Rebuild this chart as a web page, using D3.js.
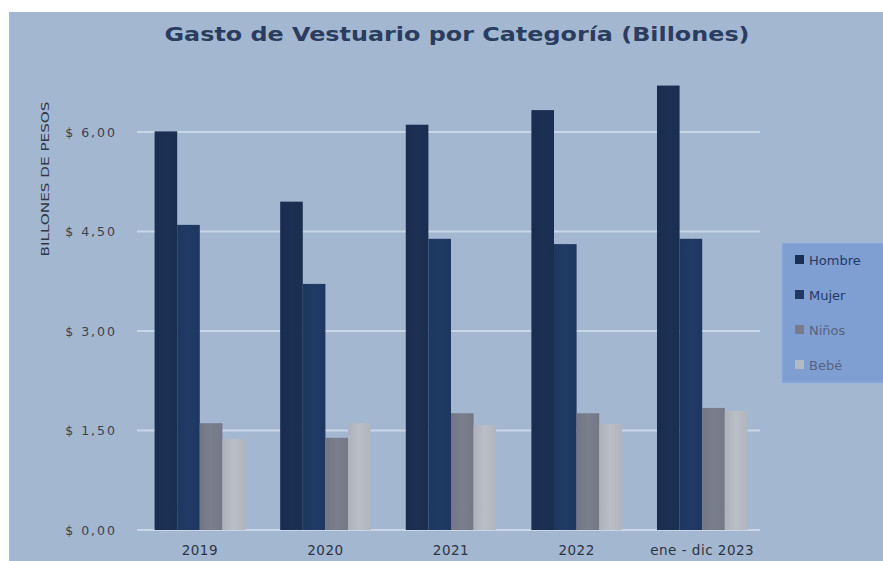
<!DOCTYPE html>
<html>
<head>
<meta charset="utf-8">
<script src="https://cdn.jsdelivr.net/npm/d3@7"></script>
<style>
  html, body { margin: 0; padding: 0; background: #ffffff; }
  svg { display: block; }
</style>
</head>
<body>
<svg id="chart" width="883" height="561"></svg>
<script>
const categories = ["2019", "2020", "2021", "2022", "ene - dic 2023"];
const seriesNames = ["Hombre", "Mujer", "Niños", "Bebé"];
const hombre = [6.01, 4.95, 6.11, 6.33, 6.70];
const mujer  = [4.60, 3.71, 4.39, 4.31, 4.39];
const ninos  = [1.61, 1.39, 1.76, 1.76, 1.84];
const bebe   = [1.37, 1.61, 1.58, 1.60, 1.80];
const yTicks = [0, 1.5, 3, 4.5, 6];
const seriesColors = ["#1b2f52", "#1f3963", "#777b8a", "#b5b9c1"];

const series = [hombre, mujer, ninos, bebe];

const svg = d3.select("#chart");
const W = 883, H = 561;

// background panel
svg.append("rect").attr("x", 9).attr("y", 12).attr("width", W - 9).attr("height", H - 12)
  .attr("fill", "#a3b7d1");

const plot = { left: 137, right: 765, top: 60, bottom: 530 };

const x0 = d3.scaleBand().domain(categories).range([plot.left, plot.right]).paddingInner(0.28).paddingOuter(0.14);
const x1 = d3.scaleBand().domain(seriesNames).range([0, x0.bandwidth()]).padding(0);
const y = d3.scaleLinear().domain([0, 6]).range([plot.bottom, 132]);

// gridlines
svg.append("g").selectAll("line").data(yTicks).join("line")
  .attr("x1", plot.left).attr("x2", 760)
  .attr("y1", d => y(d)).attr("y2", d => y(d))
  .attr("stroke", "#c9d6e8").attr("stroke-width", 2);

// gradients for bars
const defs = svg.append("defs");
seriesColors.forEach((c, i) => {
  const g = defs.append("linearGradient").attr("id", "g" + i).attr("x1", "0").attr("x2", "1").attr("y1", "0").attr("y2", "0");
  g.append("stop").attr("offset", "0%").attr("stop-color", d3.color(c).darker(0.12));
  g.append("stop").attr("offset", "50%").attr("stop-color", d3.color(c).brighter(0.08));
  g.append("stop").attr("offset", "100%").attr("stop-color", d3.color(c).darker(0.08));
});

// bars
const groups = svg.append("g").selectAll("g").data(categories).join("g")
  .attr("transform", d => `translate(${x0(d)},0)`);
groups.selectAll("rect").data((d, ci) => seriesNames.map((s, si) => ({ s, si, v: series[si][ci] })))
  .join("rect")
  .attr("x", d => x1(d.s))
  .attr("width", x1.bandwidth())
  .attr("y", d => y(d.v))
  .attr("height", d => y(0) - y(d.v))
  .attr("fill", d => `url(#g${d.si})`);

// y axis labels
const yAxis = d3.axisLeft(y).tickValues(yTicks).tickSize(0).tickPadding(0)
  .tickFormat(d => "$ " + d3.format(".2f")(d).replace(".", ","));
const yg = svg.append("g").attr("transform", `translate(117,0)`).call(yAxis);
yg.select(".domain").remove();
yg.selectAll("text").attr("fill", "#3a4250").attr("font-family", "'DejaVu Sans', sans-serif")
  .attr("font-size", 12.5).attr("letter-spacing", 2);

// x axis
const xAxis = d3.axisBottom(x0).tickSize(0).tickPadding(0);
const xg = svg.append("g").attr("transform", `translate(0,${plot.bottom})`).call(xAxis);
xg.select(".domain").remove();
xg.selectAll("text").attr("fill", "#2c3444").attr("font-family", "'DejaVu Sans', sans-serif")
  .attr("font-size", 13.5).attr("letter-spacing", 0.5).attr("dy", "1.85em");

// y axis title
svg.append("text")
  .attr("transform", "translate(49,179) rotate(-90)")
  .attr("text-anchor", "middle")
  .attr("font-family", "'DejaVu Sans Condensed', 'Liberation Sans Narrow', Arial, sans-serif")
  .attr("font-size", 11).attr("fill", "#2f3747")
  .attr("textLength", 155).attr("lengthAdjust", "spacingAndGlyphs")
  .text("BILLONES DE PESOS");

// title
svg.append("text")
  .attr("x", 457).attr("y", 41)
  .attr("text-anchor", "middle")
  .attr("font-family", "'DejaVu Sans', sans-serif").attr("font-weight", "bold")
  .attr("font-size", 20).attr("fill", "#2b3d5e")
  .attr("textLength", 585).attr("lengthAdjust", "spacingAndGlyphs")
  .text("Gasto de Vestuario por Categoría (Billones)");

// legend
const lg = svg.append("g").attr("transform", "translate(782,243)");
lg.append("rect").attr("x", 0).attr("y", 0).attr("width", 110).attr("height", 140)
  .attr("fill", "#7f9fd3").attr("stroke", "#95b1dc").attr("stroke-width", 1);
const items = lg.selectAll("g.item").data(seriesNames).join("g").attr("class", "item")
  .attr("transform", (d, i) => `translate(13,${17 + i * 35})`);
items.append("rect").attr("x", 0).attr("y", -5).attr("width", 9).attr("height", 9)
  .attr("fill", (d, i) => seriesColors[i]);
items.append("text").attr("x", 14).attr("y", 5)
  .attr("font-family", "'DejaVu Sans', sans-serif").attr("font-size", 13)
  .attr("fill", (d, i) => i < 2 ? "#253a63" : "#56637d")
  .text(d => d);
</script>
</body>
</html>
